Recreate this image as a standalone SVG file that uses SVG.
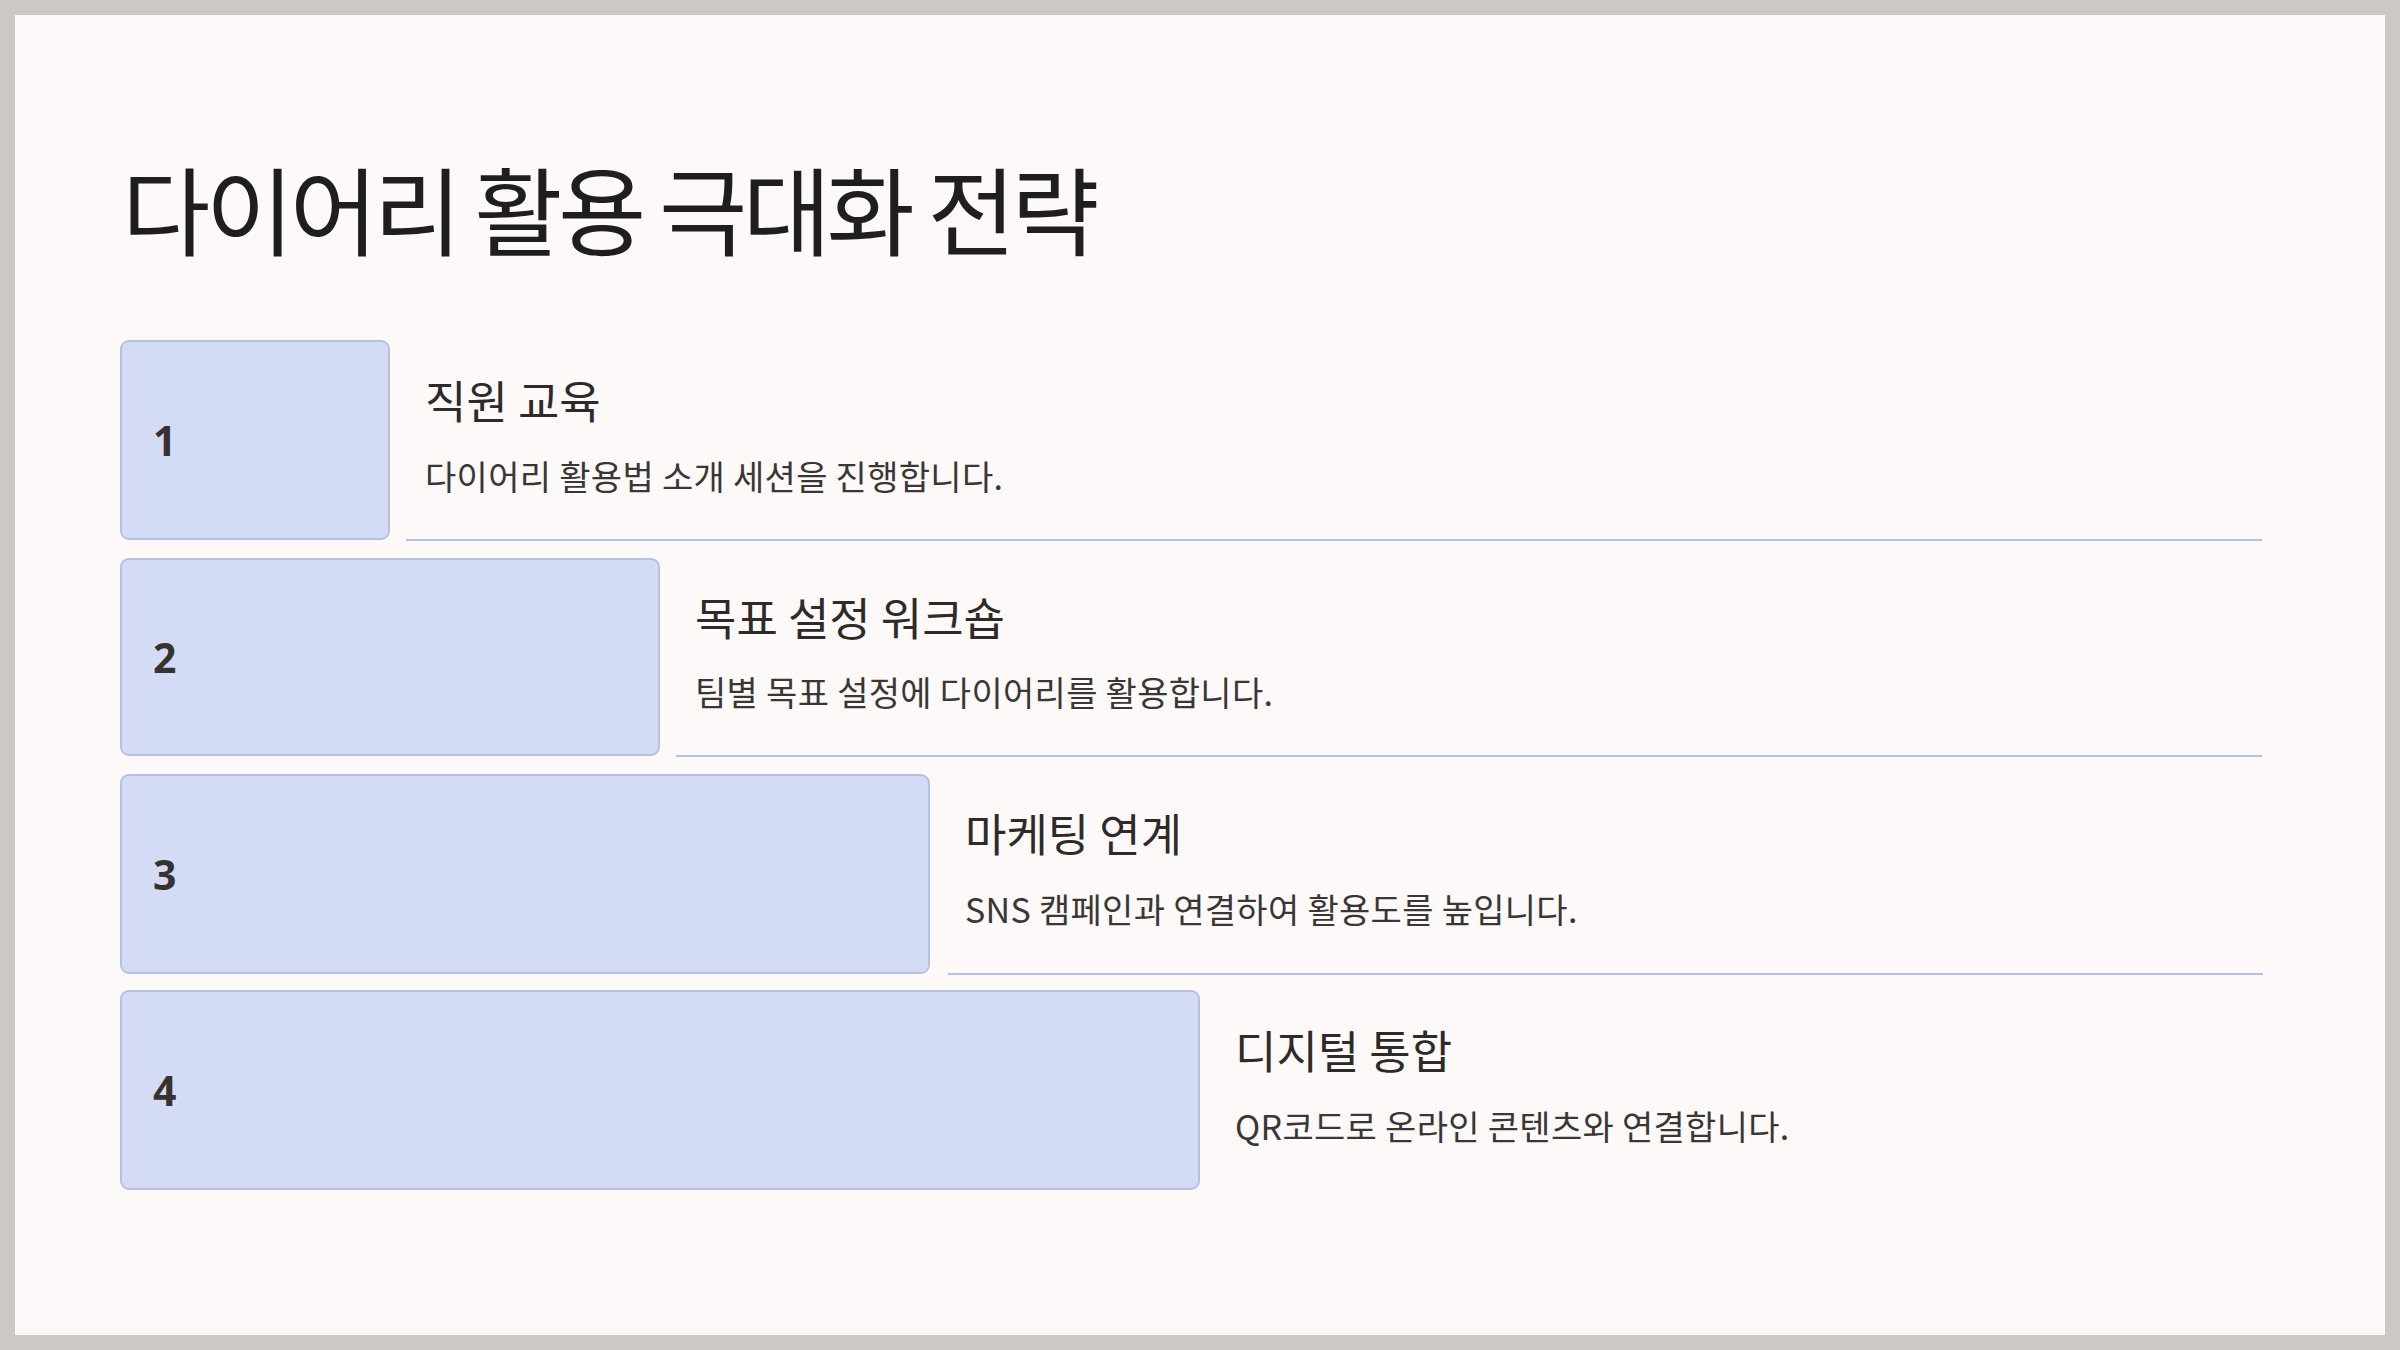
<svg xmlns="http://www.w3.org/2000/svg" width="2400" height="1350" viewBox="0 0 2400 1350">
  <style>
    .box { fill: #D4DCF5; stroke: #B6C0E2; stroke-width: 2; }
    .sep { stroke: #B6C0E2; stroke-width: 2; fill: none; }
    .num { font-family: "Noto Sans", "Open Sans", sans-serif; font-weight: 700; font-size: 41px; fill: #373232; }
    .ttl { font-family: "Noto Sans CJK KR", "Noto Sans", sans-serif; font-size: 45px; fill: #2E2A2A; }
    .dsc { font-family: "Noto Sans CJK KR", "Noto Sans", sans-serif; font-size: 34px; letter-spacing: 0.3px; fill: #3A3636; }
    .main { font-family: "Noto Sans CJK KR", "Noto Sans", sans-serif; font-size: 96px; letter-spacing: -4.5px; fill: #1E1E1E; }
  </style>
  <rect x="0" y="0" width="2400" height="1350" fill="#CCC8C6"/>
  <rect x="15" y="15" width="2370" height="1320" fill="#FDF9F8"/>
  <text class="main" x="122" y="248">다이어리 활용 극대화 전략</text>

  <g id="connectors">
    <line class="sep" x1="406" y1="540" x2="2262" y2="540"/>
    <line class="sep" x1="676" y1="756" x2="2262" y2="756"/>
    <line class="sep" x1="948" y1="974" x2="2263" y2="974"/>
  </g>

  <g id="step1">
    <rect class="box" x="121" y="341" width="268" height="198" rx="8"/>
    <text class="num" x="153" y="456">1</text>
    <text class="ttl" x="425" y="419">직원 교육</text>
    <text class="dsc" x="425" y="490">다이어리 활용법 소개 세션을 진행합니다.</text>
  </g>
  <g id="step2">
    <rect class="box" x="121" y="559" width="538" height="196" rx="8"/>
    <text class="num" x="153" y="673">2</text>
    <text class="ttl" x="695" y="636">목표 설정 워크숍</text>
    <text class="dsc" x="695" y="706">팀별 목표 설정에 다이어리를 활용합니다.</text>
  </g>
  <g id="step3">
    <rect class="box" x="121" y="775" width="808" height="198" rx="8"/>
    <text class="num" x="153" y="890">3</text>
    <text class="ttl" x="965" y="852">마케팅 연계</text>
    <text class="dsc" x="965" y="923">SNS 캠페인과 연결하여 활용도를 높입니다.</text>
  </g>
  <g id="step4">
    <rect class="box" x="121" y="991" width="1078" height="198" rx="8"/>
    <text class="num" x="153" y="1106">4</text>
    <text class="ttl" x="1235" y="1069">디지털 통합</text>
    <text class="dsc" x="1235" y="1140">QR코드로 온라인 콘텐츠와 연결합니다.</text>
  </g>
</svg>
